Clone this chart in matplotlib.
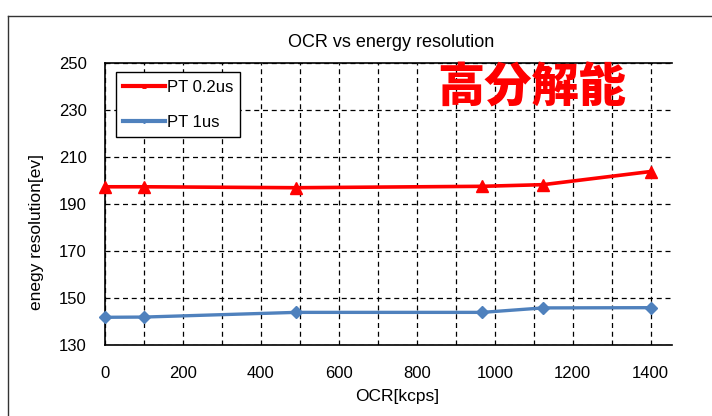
import matplotlib
matplotlib.use("Agg")
import matplotlib.pyplot as plt
from matplotlib.lines import Line2D

# OCR [kcps] for each measurement
ocr = [0, 100, 490, 968, 1124, 1400]

# energy resolution [eV] for the two peaking times
res_pt02 = [197.4, 197.4, 197.0, 197.6, 198.3, 203.9]
res_pt1 = [141.8, 141.9, 143.9, 143.9, 145.8, 145.9]

series_labels = ['PT 0.2us', 'PT 1us']
y_ticks = [130, 150, 170, 190, 210, 230, 250]
x_ticks = [0, 200, 400, 600, 800, 1000, 1200, 1400]

plt.rcParams['font.family'] = ['Liberation Sans', 'DejaVu Sans']

red = '#FF0000'
blue = '#4F81BD'

fig = plt.figure(figsize=(7.12, 4.16), dpi=100)
ax = fig.add_axes([105 / 712, 1 - 345 / 416, 566.7 / 712, 281.7 / 416])

ax.plot(ocr, res_pt02, color=red, lw=2.6, marker='^', ms=8, zorder=3, clip_on=False)
ax.plot(ocr, res_pt1, color=blue, lw=2.4, marker='D', ms=6.5, zorder=3, clip_on=False)

ax.set_xlim(0, 1454)
ax.set_ylim(130, 250)
ax.set_xticks(x_ticks)
ax.set_yticks(y_ticks)
ax.set_xticks(range(0, 1500, 100), minor=True)
ax.grid(True, which='both', axis='x', color='black', ls=(0, (4, 3)), lw=0.9)
ax.grid(True, which='major', axis='y', color='black', ls=(0, (4, 3)), lw=0.9)
ax.set_axisbelow(True)
ax.tick_params(which='both', length=0)
ax.tick_params(axis='x', pad=15, labelsize=12)
ax.tick_params(axis='y', pad=13, labelsize=12)
ax.spines['right'].set_visible(False)
for s in ['left', 'bottom', 'top']:
    ax.spines[s].set_linewidth(1.2)

ax.set_xlabel('OCR[kcps]', fontsize=12.5)
ax.xaxis.set_label_coords(0.515, -0.155)
ax.set_ylabel('enegy resolution[ev]', fontsize=12.5)
ax.yaxis.set_label_coords(-0.108, 0.40)

fig.text(391 / 712, 1 - 42.3 / 416, 'OCR vs energy resolution', ha='center', va='center', fontsize=13)

handles = [Line2D([], [], color=red, lw=3, marker='^', ms=2.5),
           Line2D([], [], color=blue, lw=3, marker='D', ms=2)]
leg = ax.legend(handles, series_labels, loc='upper left', bbox_to_anchor=(0.019, 0.968),
                borderaxespad=0, fontsize=12, handlelength=2.5, handletextpad=0.1,
                labelspacing=1.2, borderpad=0.45, fancybox=False, framealpha=1)
leg.get_frame().set_edgecolor('black')
leg.get_frame().set_linewidth(1)
leg.set_zorder(4)

ax.text(0.7535, 0.912, '高分解能', transform=ax.transAxes, ha='center', va='center',
        fontsize=34, fontweight='black', color=red, family=['Noto Sans CJK JP'])

# outer chart frame
fig.add_artist(Line2D([8 / 712, 8 / 712], [0, 1 - 16 / 416], color='#333333', lw=1, transform=fig.transFigure))
fig.add_artist(Line2D([8 / 712, 1], [1 - 16 / 416, 1 - 16 / 416], color='#333333', lw=1, transform=fig.transFigure))

fig.savefig('out.png', dpi=100)
